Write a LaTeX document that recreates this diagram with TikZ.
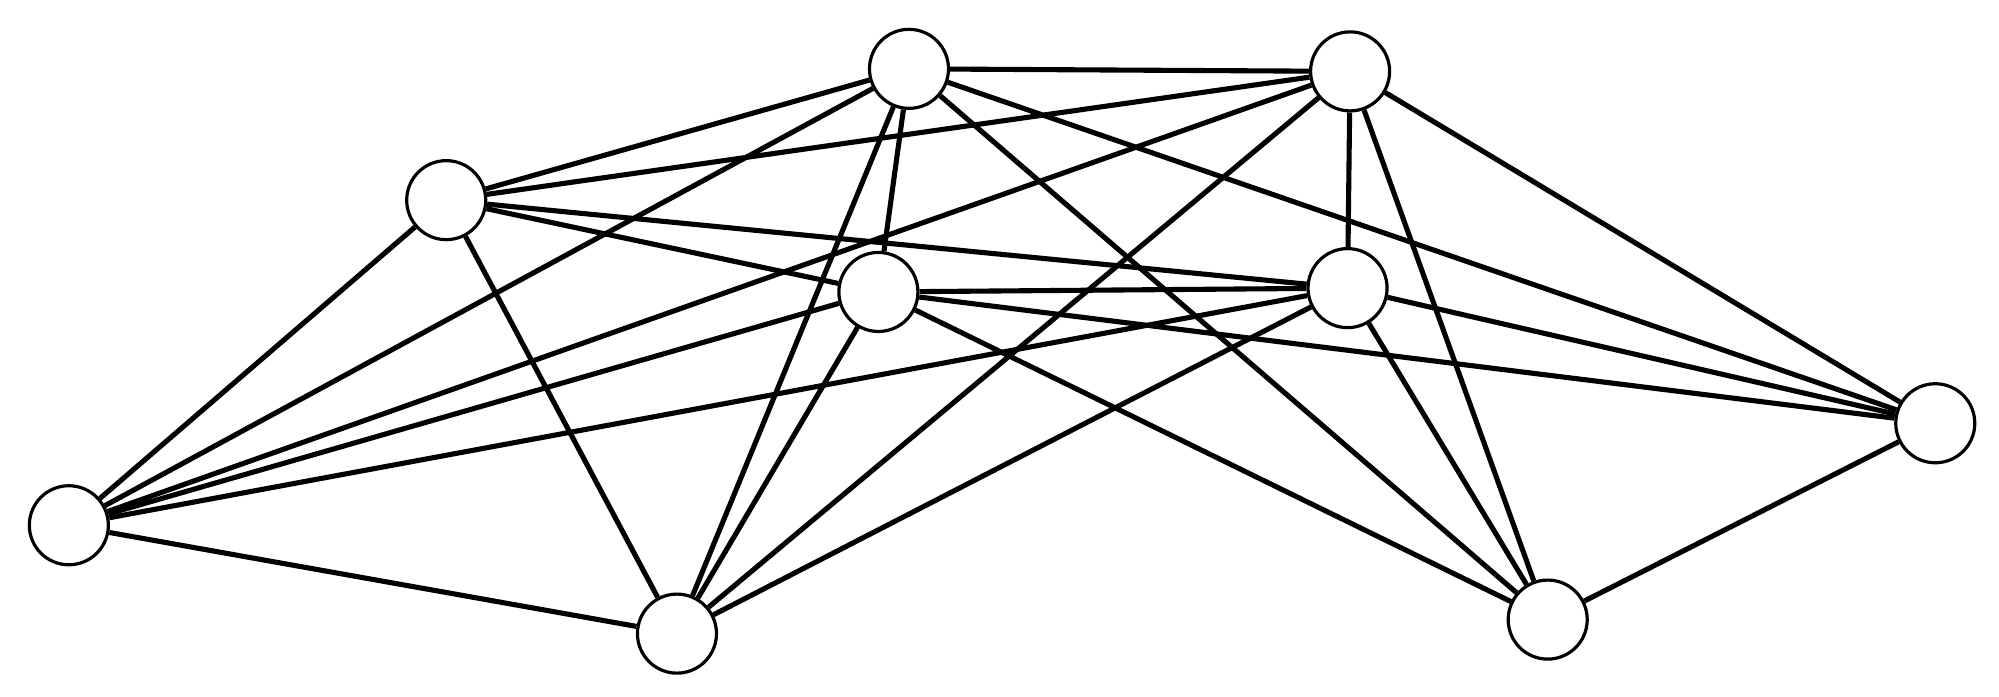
\documentclass[tikz,border=0pt]{standalone}
\begin{document}
\begin{tikzpicture}[x=1pt,y=-1pt,
  vtx/.style={circle,draw,line width=2.5pt,fill=white,minimum size=62pt,inner sep=0pt},
  edge/.style={line width=4pt}]
\useasboundingbox (0,0) rectangle (1568,546);
\coordinate (pA) at (54,412);
\node[vtx] (A) at (54,412) {};
\node[vtx] (B) at (350,157) {};
\node[vtx] (C) at (713,54) {};
\node[vtx] (D) at (1059,56) {};
\node[vtx] (E) at (689,229) {};
\node[vtx] (F) at (1057,226) {};
\node[vtx] (G) at (1518,332) {};
\node[vtx] (H) at (531,497) {};
\node[vtx] (I) at (1214,486) {};
\begin{scope}[on background layer/.style={}]
\end{scope}
\foreach \a/\b in {A/B,A/C,A/D,A/E,A/F,A/H,B/C,B/D,B/E,B/F,B/H,C/D,C/E,C/H,C/I,C/G,D/H,D/F,D/I,D/G,E/F,E/H,E/I,E/G,F/H,F/I,F/G,I/G}
  \draw[edge] (\a) -- (\b);
\end{tikzpicture}
\end{document}
